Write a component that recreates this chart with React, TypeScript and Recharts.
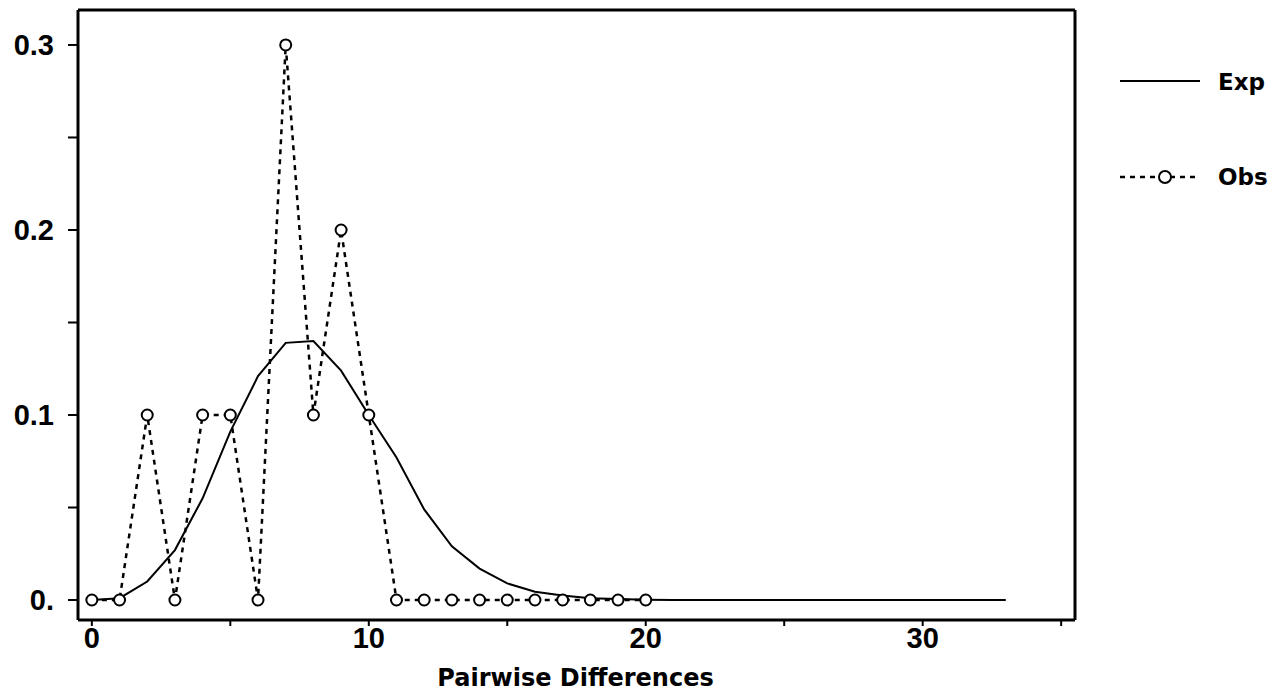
import React from "react";
import { LineChart, Line, XAxis, YAxis, Legend, ReferenceLine } from "recharts";

// pairwise differences (x)
const diffs = [
  0, 1, 2, 3, 4, 5, 6, 7, 8, 9, 10, 11, 12, 13, 14, 15, 16, 17, 18, 19, 20,
  21, 22, 23, 24, 25, 26, 27, 28, 29, 30, 31, 32, 33,
];

// expected frequency
const expValues = [
  0, 0.001, 0.01, 0.027, 0.055, 0.091, 0.121, 0.139, 0.14, 0.124, 0.1, 0.077,
  0.049, 0.029, 0.017, 0.009, 0.0045, 0.0025, 0.001, 0.0005, 0.0002, 0, 0, 0,
  0, 0, 0, 0, 0, 0, 0, 0, 0, 0,
];

// observed frequency (dashed with circles), 0..20
const obsValues = [
  0, 0, 0.1, 0, 0.1, 0.1, 0, 0.3, 0.1, 0.2, 0.1, 0, 0, 0, 0, 0, 0, 0, 0, 0, 0,
];

const xTicks = [0, 5, 10, 15, 20, 25, 30, 35];
const yTicks = [0, 0.05, 0.1, 0.15, 0.2, 0.25, 0.3];

const X_DOMAIN: [number, number] = [-0.5, 35.5];
const Y_DOMAIN: [number, number] = [-0.0108, 0.3189];

const expData = expValues.map((v, i) => ({ x: diffs[i], exp: v }));
const obsData = obsValues.map((v, i) => ({ x: diffs[i], obs: v }));

const tickFont = {
  fill: "#000",
  fontSize: 29,
  fontWeight: "bold",
  fontFamily: "Liberation Sans, Arial, sans-serif",
};

const titleFont = "DejaVu Sans, sans-serif";

function yLabel(v: number) {
  const h = Math.round(v * 100);
  if (h === 0) return "0.";
  if (h % 10 !== 0) return "";
  return (h / 100).toFixed(1);
}

function xLabel(v: number) {
  return v % 10 === 0 ? String(v) : "";
}

function ObsDot(props: any) {
  const { cx, cy, index } = props;
  if (cx == null || cy == null) return null;
  return (
    <circle
      key={`obs-${index}`}
      cx={cx}
      cy={cy}
      r={5.5}
      fill="#fff"
      stroke="#000"
      strokeWidth={2}
    />
  );
}

function renderLegend() {
  return (
    <svg width={180} height={160}>
      <line x1={10} y1={31} x2={90} y2={31} stroke="#000" strokeWidth={2} />
      <text
        x={108}
        y={40}
        fontFamily={titleFont}
        fontWeight="bold"
        fontSize={23}
        fill="#000"
      >
        Exp
      </text>
      <line
        x1={10}
        y1={127}
        x2={90}
        y2={127}
        stroke="#000"
        strokeWidth={2.5}
        strokeDasharray="5 5"
      />
      <circle cx={55} cy={127} r={6} fill="#fff" stroke="#000" strokeWidth={2} />
      <text
        x={108}
        y={135}
        fontFamily={titleFont}
        fontWeight="bold"
        fontSize={23}
        fill="#000"
      >
        Obs
      </text>
    </svg>
  );
}

export default function App() {
  return (
    <div style={{ position: "absolute", left: 0, top: 0, background: "#fff" }}>
      <LineChart
        width={1282}
        height={695}
        margin={{ top: 10, right: 207, left: 0, bottom: 0 }}
      >
        <XAxis
          dataKey="x"
          type="number"
          domain={X_DOMAIN}
          allowDataOverflow
          ticks={xTicks}
          tickFormatter={xLabel}
          interval={0}
          height={75}
          tickSize={6}
          tickMargin={1}
          tick={tickFont}
          axisLine={{ stroke: "#000", strokeWidth: 3 }}
          tickLine={{ stroke: "#000", strokeWidth: 2 }}
          label={(p: any) => {
            const vb = p.viewBox || {};
            return (
              <text
                x={vb.x + vb.width / 2 - 1}
                y={686}
                textAnchor="middle"
                fontFamily={titleFont}
                fontWeight="bold"
                fontSize={24}
                fill="#000"
              >
                Pairwise Differences
              </text>
            );
          }}
        />
        <YAxis
          type="number"
          domain={Y_DOMAIN}
          allowDataOverflow
          ticks={yTicks}
          tickFormatter={yLabel}
          interval={0}
          width={78}
          tickSize={10}
          tickMargin={14}
          tick={tickFont}
          axisLine={{ stroke: "#000", strokeWidth: 3 }}
          tickLine={{ stroke: "#000", strokeWidth: 2 }}
        />
        {/* top and right edges of the plot frame */}
        <ReferenceLine y={Y_DOMAIN[1]} stroke="#000" strokeWidth={3} ifOverflow="visible" />
        <ReferenceLine x={X_DOMAIN[1]} stroke="#000" strokeWidth={3} ifOverflow="visible" />
        <Legend
          layout="horizontal"
          verticalAlign="middle"
          align="center"
          content={renderLegend}
          wrapperStyle={{ left: 1110, top: 50, width: 180, height: 160 }}
        />
        <Line
          data={expData}
          dataKey="exp"
          name="Exp"
          type="linear"
          stroke="#000"
          strokeWidth={2}
          dot={false}
          activeDot={false}
          isAnimationActive={false}
        />
        <Line
          data={obsData}
          dataKey="obs"
          name="Obs"
          type="linear"
          stroke="#000"
          strokeWidth={2.5}
          strokeDasharray="5 5"
          dot={<ObsDot />}
          activeDot={false}
          isAnimationActive={false}
        />
      </LineChart>
    </div>
  );
}
